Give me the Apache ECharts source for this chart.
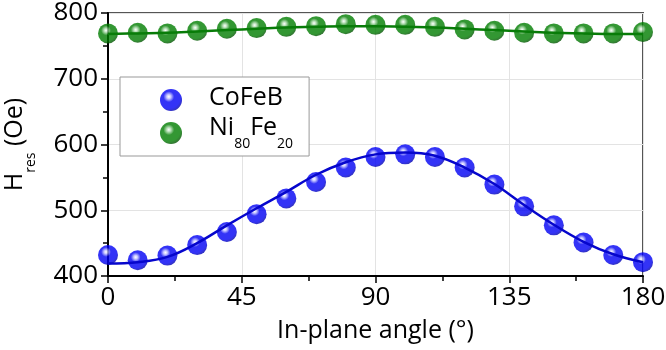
<!DOCTYPE html>
<html>
<head>
<meta charset="utf-8">
<script src="https://cdn.jsdelivr.net/npm/echarts@6/dist/echarts.min.js"></script>
<style>
  html, body { margin: 0; padding: 0; background: #fff; }
  #chart { width: 666px; height: 350px; }
</style>
</head>
<body>
<div id="chart"></div>
<script>
  // measured points, every 10 degrees
  const angles = [0, 10, 20, 30, 40, 50, 60, 70, 80, 90, 100, 110, 120, 130, 140, 150, 160, 170, 180];
  const cofebPts = [432, 424, 431, 447, 467, 494, 518, 543, 565, 581, 585, 581, 565, 539, 506, 477, 451, 432, 421];
  const nifePts = [769, 770, 769, 773, 776, 777, 779, 780, 783, 782, 782, 779, 775, 773, 770, 769, 769, 769, 771];
  // fit curves
  const cofebFit = [419, 421, 429, 450, 477, 503, 528, 554, 573, 585, 588, 583, 565, 540, 508, 478, 452, 433, 421];
  const nifeFit = [768, 769, 770, 772, 774, 776, 778, 779, 780, 780, 779, 778, 776, 774, 772, 770, 769, 768, 768];
  const xTicks = [0, 45, 90, 135, 180];

  const FONT = '"Open Sans", sans-serif';

  function ball(hi, mid, edge) {
    return {
      type: 'radial', x: 0.4, y: 0.35, r: 0.68,
      colorStops: [
        { offset: 0, color: '#ffffff' },
        { offset: 0.14, color: hi },
        { offset: 0.36, color: mid },
        { offset: 0.78, color: mid },
        { offset: 1, color: edge }
      ]
    };
  }

  const pair = (xs, ys) => xs.map((x, i) => [x, ys[i]]);

  const rich = {
    a: { fontSize: 25, lineHeight: 30, verticalAlign: 'top', fontFamily: FONT, color: '#000' },
    s: { fontSize: 14, padding: [22, 0, 0, 0], verticalAlign: 'top', fontFamily: FONT, color: '#000' }
  };

  const option = {
    animation: false,
    textStyle: { fontFamily: FONT },
    grid: {
      left: 108, right: 23, top: 13, bottom: 74,
      outerBoundsMode: 'none', containLabel: false,
      show: true, borderColor: '#555', borderWidth: 2, backgroundColor: 'transparent'
    },
    legend: {
      data: ['CoFeB', 'Ni80Fe20'],
      orient: 'vertical',
      left: 120, top: 77,
      padding: [8, 16, 5, 40],
      itemWidth: 22, itemHeight: 22, itemGap: 4,
      borderColor: '#999', borderWidth: 1, backgroundColor: '#fff',
      formatter: name => name === 'Ni80Fe20' ? '{a|Ni}{s|80}{a|Fe}{s|20}' : '{a|CoFeB}',
      textStyle: { padding: [0, 0, 0, 22], rich: rich }
    },
    xAxis: {
      type: 'value', min: 0, max: 180, interval: 45,
      name: 'In-plane angle (°)', nameLocation: 'middle', nameGap: 42,
      nameTextStyle: { fontSize: 25, color: '#000', fontFamily: FONT },
      axisLine: { onZero: false, lineStyle: { color: '#000', width: 2 } },
      axisTick: { show: true, length: 7, lineStyle: { color: '#000', width: 1.5 } },
      minorTick: { show: true, splitNumber: 2, length: 5, lineStyle: { color: '#000', width: 1.5 } },
      axisLabel: {
        fontSize: 26, color: '#000', margin: 9, fontFamily: FONT,
        formatter: v => xTicks.includes(v) ? String(v) : ''
      },
      splitLine: { show: true, lineStyle: { color: '#e3e3e3', width: 1 } }
    },
    yAxis: {
      type: 'value', min: 400, max: 800, interval: 100,
      name: '{a|H}{s|res}{a| (Oe)}', nameLocation: 'middle', nameGap: 70, nameRotate: 90,
      nameTextStyle: { rich: rich },
      axisLine: { onZero: false, lineStyle: { color: '#000', width: 2 } },
      axisTick: { show: true, length: 7, lineStyle: { color: '#000', width: 1.5 } },
      minorTick: { show: true, splitNumber: 2, length: 5, lineStyle: { color: '#000', width: 1.5 } },
      axisLabel: { fontSize: 26, color: '#000', margin: 10, fontFamily: FONT },
      splitLine: { show: true, lineStyle: { color: '#e3e3e3', width: 1 } }
    },
    series: [
      {
        name: 'CoFeB fit', type: 'line', smooth: 0.4, showSymbol: false, silent: true,
        data: pair(angles, cofebFit),
        lineStyle: { color: '#0606cc', width: 2.5 }
      },
      {
        name: 'Ni80Fe20 fit', type: 'line', smooth: 0.4, showSymbol: false, silent: true,
        data: pair(angles, nifeFit),
        lineStyle: { color: '#087c08', width: 2.5 }
      },
      {
        name: 'CoFeB', type: 'scatter', symbolSize: 20,
        data: pair(angles, cofebPts),
        itemStyle: { color: ball('#b8b8ff', '#0000f4', '#0000a8') }
      },
      {
        name: 'Ni80Fe20', type: 'scatter', symbolSize: 20,
        data: pair(angles, nifePts),
        itemStyle: { color: ball('#a8d8a8', '#007d00', '#004e00') }
      }
    ]
  };

  const chart = echarts.init(document.getElementById('chart'));
  chart.setOption(option);
</script>
</body>
</html>
